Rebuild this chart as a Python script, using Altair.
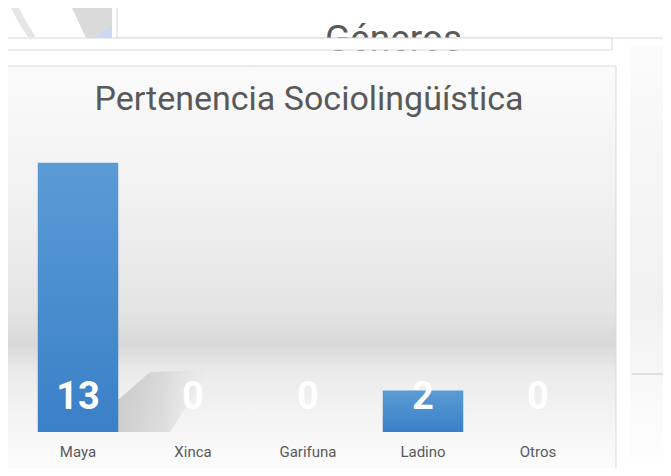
import altair as alt
import pandas as pd

# ---- data ----
categories = ["Maya", "Xinca", "Garifuna", "Ladino", "Otros"]
values = [13, 0, 0, 2, 0]
title_text = "Pertenencia Sociolingüística"
back_title = "Géneros"

df = pd.DataFrame({"cat": categories, "val": values})
one = pd.DataFrame({"k": [0]})

W, H = 575, 290
FONT = "Liberation Sans Narrow, Roboto, sans-serif"
GREY = "#595959"


def grad(stops, x1=0, y1=0, x2=0, y2=1):
    return alt.LinearGradient(
        gradient="linear",
        stops=[alt.GradientStop(offset=o, color=c) for o, c in stops],
        x1=x1, y1=y1, x2=x2, y2=y2,
    )


base1 = alt.Chart(one)

# ---- window pieces behind the chart ----
right_area = base1.mark_rect(
    color=grad([(0, "#fbfbfb"), (0.6, "#f1f1f1"), (0.75, "#f7f7f7"), (1, "#ffffff")])
).encode(x=alt.value(609.5), x2=alt.value(660), y=alt.value(-97), y2=alt.value(334))

right_line = base1.mark_rule(color="#d9d9d9", strokeWidth=1.5).encode(
    x=alt.value(611), x2=alt.value(660), y=alt.value(232))

back_box = base1.mark_rect(fill="white", stroke="#d9d9d9", strokeWidth=1).encode(
    x=alt.value(96.5), x2=alt.value(700), y=alt.value(-141), y2=alt.value(-104))

back_text = base1.mark_text(
    text=back_title, font=FONT, fontSize=37, color=GREY, baseline="alphabetic", align="center"
).encode(x=alt.value(373), y=alt.value(-91))

band = base1.mark_rect(fill="white", stroke="#d9d9d9", strokeWidth=1).encode(
    x=alt.value(-25), x2=alt.value(591.5), y=alt.value(-104), y2=alt.value(-92))

arc = base1.mark_arc(color="#e6e6e6", innerRadius=143, outerRadius=150,
                     theta=4.07, theta2=4.7).encode(x=alt.value(129.5), y=alt.value(-192))

wedge = base1.mark_point(
    shape="M -1 -0.75 L 1 -0.75 L 1 0.75 L -0.3 0.75 Z", size=1600, filled=True,
    color="#dadada", opacity=1, strokeWidth=0,
).encode(x=alt.value(71.5), y=alt.value(-119))

blue = base1.mark_point(
    shape="M -1 0.8 L 1 -0.4 L 1 0.8 Z", size=400, filled=True,
    color="#ccd8f2", opacity=1, strokeWidth=0,
).encode(x=alt.value(81.5), y=alt.value(-112))

frame = base1.mark_rect(
    stroke="#d9d9d9", strokeWidth=1,
    color=grad([(0, "#fbfbfb"), (0.33, "#f1f1f1"), (0.6, "#e4e4e4"), (0.68, "#d9d9d9"),
                (0.75, "#ebebeb"), (0.85, "#f3f3f3"), (0.92, "#f8f8f8"), (1, "#fdfdfd")]),
).encode(x=alt.value(-18.5), x2=alt.value(595.5), y=alt.value(-76), y2=alt.value(333))

# soft shadow cast by the tallest bar
shadow = base1.mark_point(
    shape="M -1 0.6 L -1 -0.04 L -0.36 -0.6 L 0.84 -0.64 L 0.04 0.6 Z", size=10000,
    filled=True, strokeWidth=0,
    color=grad([(0, "#b4b4b4"), (0.5, "#cdcdcd"), (1, "rgba(225,225,225,0)")], x1=0, y1=0, x2=1, y2=0),
    opacity=0.6,
).encode(x=alt.value(147.5), y=alt.value(260))

# chart title (as a text mark, centred over the plot)
title_mark = base1.mark_text(
    text=title_text, font=FONT, fontSize=34, color=GREY, baseline="middle", align="center"
).encode(x=alt.value(288.5), y=alt.value(-42))

# ---- main chart ----
x_enc = alt.X(
    "cat:N", sort=categories,
    scale=alt.Scale(paddingInner=0.3, paddingOuter=0.15),
    axis=alt.Axis(title=None, labelAngle=0, domain=False, ticks=False, labelPadding=12,
                  labelFontSize=15, labelColor=GREY, labelFont=FONT, zindex=1),
)
y_scale = alt.Scale(domain=[0, 14])

bars = alt.Chart(df).mark_bar(
    color=grad([(0, "#5b9bd5"), (1, "#3a80c8")])
).encode(x=x_enc, y=alt.Y("val:Q", scale=y_scale, axis=None))

labels = alt.Chart(df).mark_text(
    font=FONT, fontSize=38, fontWeight="bold", color="white", baseline="middle", dy=-34
).encode(x=x_enc, y=alt.Y("zero:Q", scale=y_scale, axis=None), text="val:Q").transform_calculate(zero="0")

chart = alt.layer(
    right_area, right_line, back_box, back_text, band, arc, wedge, blue, frame, shadow,
    title_mark, bars, labels
).properties(
    width=W, height=H,
    autosize=alt.AutoSizeParams(type="none"),
    padding={"left": 12.5, "top": 134, "right": 67.5, "bottom": 36},
    background="white",
).configure_view(stroke=None)

chart.save("out.html", embed_options={"renderer": "svg", "actions": False})
